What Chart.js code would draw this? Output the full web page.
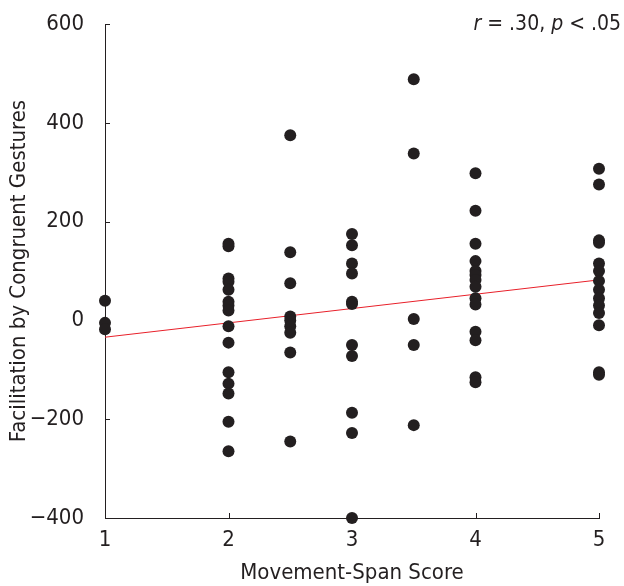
<!DOCTYPE html>
<html>
<head>
<meta charset="utf-8">
<script src="https://cdn.jsdelivr.net/npm/chart.js@4/dist/chart.umd.min.js"></script>
<style>
  html, body { margin: 0; padding: 0; background: #fff; }
  #wrap { width: 624px; height: 586px; }
</style>
</head>
<body>
<div id="wrap"><canvas id="scatter_chart" width="624" height="586"></canvas></div>
<script>
const scores = [1, 2, 2.5, 3, 3.5, 4, 5];
const facil_1   = [40, -5, -18];
const facil_2   = [155, 150, 85, 78, 62, 38, 30, 20, -12, -45, -105, -128, -148, -205, -265];
const facil_2_5 = [375, 138, 75, 8, 0, -12, -25, -65, -245];
const facil_3   = [175, 152, 115, 95, 38, 33, -50, -72, -187, -228, -400];
const facil_3_5 = [488, 338, 3, -50, -212];
const facil_4   = [298, 222, 155, 120, 100, 92, 82, 68, 45, 32, -23, -40, -115, -125];
const facil_5   = [307, 275, 162, 157, 115, 100, 80, 62, 45, 30, 15, -10, -105, -110];

// regression line end points
const fit_x = [1, 5];
const fit_y = [-34, 82];

const x_ticks = [1, 2, 3, 4, 5];
const y_ticks = [-400, -200, 0, 200, 400, 600];

const FONT = "'DejaVu Sans Condensed', 'Liberation Sans Narrow', 'Liberation Sans', sans-serif";
const INK = "#231f20";

let columns = [facil_1, facil_2, facil_2_5, facil_3, facil_3_5, facil_4, facil_5];
let points = [];
columns.forEach((col, i) => {
	col.forEach(v => points.push({ x: scores[i], y: v }));
});

let fit_points = fit_x.map((x, i) => ({ x: x, y: fit_y[i] }));

// small ticks pointing into the plot + the r/p note
const extras = {
	id: "extras",
	afterDraw(chart) {
		const ctx = chart.ctx;
		const xs = chart.scales.x, ys = chart.scales.y;
		ctx.save();
		ctx.strokeStyle = INK;
		ctx.lineWidth = 1;
		ctx.beginPath();
		x_ticks.slice(1).forEach(t => {
			let px = Math.round(xs.getPixelForValue(t)) + 0.5;
			ctx.moveTo(px, ys.bottom);
			ctx.lineTo(px, ys.bottom - 5);
		});
		y_ticks.slice(1).forEach(t => {
			let py = Math.round(ys.getPixelForValue(t)) + 0.5;
			ctx.moveTo(xs.left, py);
			ctx.lineTo(xs.left + 5, py);
		});
		ctx.stroke();

		// "r = .30, p < .05" right aligned at top
		ctx.fillStyle = INK;
		ctx.textBaseline = "alphabetic";
		const parts = [
			["r", true], [" = .30, ", false], ["p", true], [" < .05", false]
		];
		let widths = parts.map(p => {
			ctx.font = (p[1] ? "italic " : "") + "21px " + FONT;
			return ctx.measureText(p[0]).width;
		});
		let total = widths.reduce((a, b) => a + b, 0);
		let x = 621 - total;
		parts.forEach((p, i) => {
			ctx.font = (p[1] ? "italic " : "") + "21px " + FONT;
			ctx.fillText(p[0], x, 30);
			x += widths[i];
		});
		ctx.restore();
	}
};

const chart = document.getElementById("scatter_chart").getContext("2d");

new Chart(chart, {
	type: "scatter",
	data: {
		datasets: [
			{
				label: "Participants",
				data: points,
				pointRadius: 6,
				pointHoverRadius: 6,
				pointBackgroundColor: INK,
				pointBorderColor: INK,
				pointBorderWidth: 0,
				clip: false,
			},
			{
				type: "line",
				label: "Fit",
				data: fit_points,
				borderColor: "#e8202a",
				borderWidth: 1,
				pointRadius: 0,
				fill: false,
			}
		]
	},
	options: {
		responsive: false,
		animation: false,
		layout: { padding: { top: 24, right: 25, left: 0, bottom: 0 } },
		plugins: {
			legend: { display: false },
			tooltip: { enabled: false }
		},
		scales: {
			x: {
				type: "linear",
				min: 1,
				max: 5,
				afterBuildTicks: s => { s.ticks = x_ticks.map(v => ({ value: v })); },
				afterFit: s => { s.height = 68; s.paddingLeft = 0; s.paddingRight = 0; },
				grid: { display: false, drawTicks: false },
				border: { display: true, color: INK, width: 1 },
				ticks: {
					color: INK,
					padding: 9,
					font: { family: FONT, size: 22 },
					maxRotation: 0,
				},
				title: {
					display: true,
					text: "Movement-Span Score",
					color: INK,
					font: { family: FONT, size: 22 },
					padding: { top: 0, bottom: 0 },
				}
			},
			y: {
				type: "linear",
				min: -400,
				max: 600,
				afterBuildTicks: s => { s.ticks = y_ticks.map(v => ({ value: v })); },
				afterFit: s => { s.width = 105; s.paddingTop = 0; s.paddingBottom = 0; },
				grid: { display: false, drawTicks: false },
				border: { display: true, color: INK, width: 1 },
				ticks: {
					color: INK,
					padding: 21,
					font: { family: FONT, size: 22 },
					callback: v => String(v).replace("-", "\u2212"),
				},
				title: {
					display: true,
					text: "Facilitation by Congruent Gestures",
					color: INK,
					font: { family: FONT, size: 22 },
					padding: { top: 6, bottom: 0 },
				}
			}
		}
	},
	plugins: [extras]
});
</script>
</body>
</html>
